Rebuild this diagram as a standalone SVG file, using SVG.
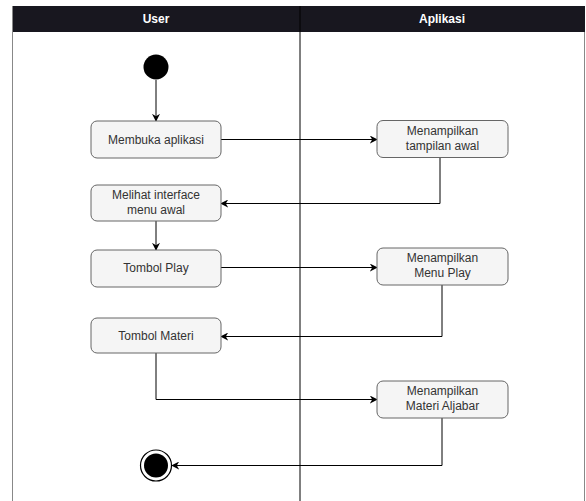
<svg xmlns="http://www.w3.org/2000/svg" width="586" height="501" viewBox="0 0 586 501">
  <defs>
    <marker id="arrow" viewBox="0 0 10 10" refX="9" refY="5" markerWidth="8" markerHeight="8" markerUnits="userSpaceOnUse" orient="auto">
      <path d="M0,0 L10,5 L0,10 L3,5 Z" fill="#000"/>
    </marker>
  </defs>
  <style>
    .lane { fill: none; stroke: #000; stroke-width: 1; }
    .head { fill: #18171f; }
    .htxt { font-family: "Liberation Sans", Arial, sans-serif; font-size: 12px; font-weight: bold; fill: #fff; text-anchor: middle; }
    .box { fill: #f5f5f5; stroke: #666; stroke-width: 1; }
    .txt { font-family: "Liberation Sans", Arial, sans-serif; font-size: 12px; fill: #333; text-anchor: middle; }
    .edge { fill: none; stroke: #000; stroke-width: 1; marker-end: url(#arrow); }
  </style>
  <rect width="586" height="501" fill="#fff"/>

  <!-- swimlanes -->
  <g id="lanes">
    <rect class="head" x="12" y="6" width="573" height="26"/>
    <line x1="12.5" y1="6" x2="12.5" y2="501" stroke="#888" stroke-width="1"/>
    <line x1="584.5" y1="32" x2="584.5" y2="501" stroke="#888" stroke-width="1"/>
    <line x1="300" y1="6" x2="300" y2="501" stroke="#000" stroke-width="1"/>
    <text class="htxt" x="156" y="23">User</text>
    <text class="htxt" x="442" y="23">Aplikasi</text>
  </g>

  <!-- connectors -->
  <g id="connectors">
    <path class="edge" d="M156,80 L156,121"/>
    <path class="edge" d="M221,139.5 L377,139.5"/>
    <path class="edge" d="M440,158 L440,203.5 L221,203.5"/>
    <path class="edge" d="M156,221 L156,250"/>
    <path class="edge" d="M221,267.5 L377,267.5"/>
    <path class="edge" d="M442,285 L442,336.5 L221,336.5"/>
    <path class="edge" d="M156,353 L156,399.5 L377,399.5"/>
    <path class="edge" d="M442,418 L442,465.5 L172,465.5"/>
  </g>

  <!-- start -->
  <g id="start">
    <circle cx="156" cy="67" r="12.5" fill="#000"/>
  </g>

  <g id="membuka">
    <rect class="box" x="91" y="121" width="130" height="37" rx="6"/>
    <text class="txt" x="156" y="144">Membuka aplikasi</text>
  </g>

  <g id="tampilan-awal">
    <rect class="box" x="377" y="120.5" width="131" height="37" rx="6"/>
    <text class="txt" x="442.5" y="135">Menampilkan</text>
    <text class="txt" x="442.5" y="150">tampilan awal</text>
  </g>

  <g id="melihat">
    <rect class="box" x="91" y="185" width="130" height="36" rx="6"/>
    <text class="txt" x="156" y="199">Melihat interface</text>
    <text class="txt" x="156" y="214">menu awal</text>
  </g>

  <g id="tombol-play">
    <rect class="box" x="91" y="250" width="130" height="37" rx="6"/>
    <text class="txt" x="156" y="272">Tombol Play</text>
  </g>

  <g id="menu-play">
    <rect class="box" x="377" y="248" width="131" height="37" rx="6"/>
    <text class="txt" x="442.5" y="262">Menampilkan</text>
    <text class="txt" x="442.5" y="277">Menu Play</text>
  </g>

  <g id="tombol-materi">
    <rect class="box" x="91" y="318" width="130" height="35" rx="6"/>
    <text class="txt" x="156" y="340">Tombol Materi</text>
  </g>

  <g id="materi-aljabar">
    <rect class="box" x="377" y="381" width="131" height="37" rx="6"/>
    <text class="txt" x="442.5" y="395">Menampilkan</text>
    <text class="txt" x="442.5" y="410">Materi Aljabar</text>
  </g>

  <!-- end -->
  <g id="end">
    <circle cx="156" cy="465.5" r="15.5" fill="#fff" stroke="#000" stroke-width="1.2"/>
    <circle cx="156" cy="465.5" r="12" fill="#000"/>
  </g>
</svg>
